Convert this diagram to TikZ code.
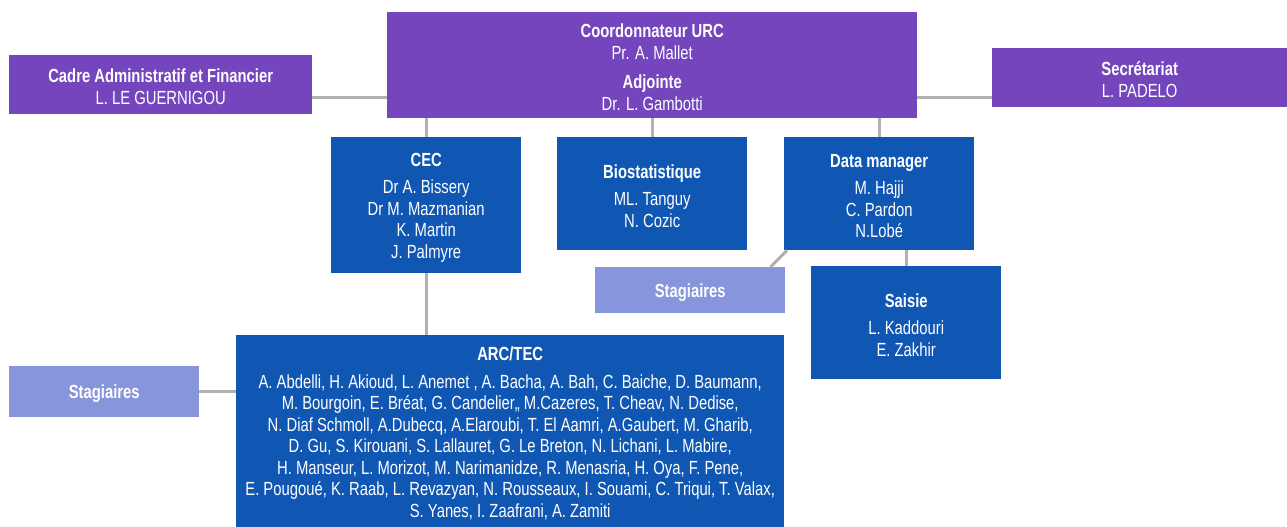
\documentclass[tikz,border=0pt]{standalone}
\usepackage{fontspec}
\setmainfont{Liberation Sans}[FakeStretch=0.78]
\definecolor{purp}{RGB}{116,69,189}
\definecolor{blu}{RGB}{16,87,180}
\definecolor{lav}{RGB}{135,149,220}
\definecolor{conn}{RGB}{180,177,172}
\tikzset{
  box/.style={anchor=north west, inner sep=0pt, align=center, text=white,
    font=\fontsize{19}{21.5}\selectfont},
  purpbox/.style={box, fill=purp},
  bluebox/.style={box, fill=blu},
  lavbox/.style={box, fill=lav},
  link/.style={draw=conn, line width=3pt}
}
\newcommand{\ttl}[1]{\rule{0pt}{18pt}\textbf{#1}}
\begin{document}
\begin{tikzpicture}[x=1pt,y=-1pt]
\useasboundingbox (0,0) rectangle (1287,527);
% top level
\node[purpbox, minimum width=530pt, minimum height=106pt] (coord) at (387,12)
  {\ttl{Coordonnateur URC}\\Pr. A. Mallet\\[8pt]\textbf{Adjointe}\\Dr. L. Gambotti};
\node[purpbox, minimum width=303pt, minimum height=59pt] (cadre) at (9,55)
  {\ttl{Cadre Administratif et Financier}\\L. LE GUERNIGOU};
\node[purpbox, minimum width=295pt, minimum height=59pt] (secr) at (992,48)
  {\ttl{Secrétariat}\\L. PADELO};
% second level
\node[bluebox, minimum width=190pt, minimum height=136pt] (cec) at (331,137)
  {\ttl{CEC}\\[6pt]Dr A. Bissery\\Dr M. Mazmanian\\K. Martin\\J. Palmyre};
\node[bluebox, minimum width=190pt, minimum height=113pt] (bio) at (557,137)
  {\ttl{Biostatistique}\\[6pt]ML. Tanguy\\N. Cozic};
\node[bluebox, minimum width=190pt, minimum height=113pt] (dm) at (784,137)
  {\ttl{Data manager}\\[6pt]M. Hajji\\C. Pardon\\N.Lobé};
% third level
\node[lavbox, minimum width=190pt, minimum height=46pt] (stagR) at (595,267)
  {\ttl{Stagiaires}};
\node[bluebox, minimum width=190pt, minimum height=113pt] (saisie) at (811,266)
  {\ttl{Saisie}\\[6pt]L. Kaddouri\\E. Zakhir};
\node[bluebox, minimum width=548pt, minimum height=192pt] (arc) at (236,335)
  {\ttl{ARC/TEC}\\[6pt]
  A. Abdelli, H. Akioud, L. Anemet , A. Bacha, A. Bah, C. Baiche, D. Baumann,\\
  M. Bourgoin, E. Bréat, G. Candelier,, M.Cazeres, T. Cheav, N. Dedise,\\
  N. Diaf Schmoll, A.Dubecq, A.Elaroubi, T. El Aamri, A.Gaubert, M. Gharib,\\
  D. Gu, S. Kirouani, S. Lallauret, G. Le Breton, N. Lichani, L. Mabire,\\
  H. Manseur, L. Morizot, M. Narimanidze, R. Menasria, H. Oya, F. Pene,\\
  E. Pougoué, K. Raab, L. Revazyan, N. Rousseaux, I. Souami, C. Triqui, T. Valax,\\
  S. Yanes, I. Zaafrani, A. Zamiti};
\node[lavbox, minimum width=190pt, minimum height=51pt] (stagL) at (9,366)
  {\ttl{Stagiaires}};
% connectors
\draw[link] ([yshift=-12.5pt]cadre.east) -- ([yshift=-12.5pt]cadre.east -| coord.west);
\draw[link] ([yshift=-19.5pt]secr.west) -- ([yshift=-19.5pt]secr.west -| coord.east);
\draw[link] (coord.south -| cec.north) -- (cec.north);
\draw[link] (coord.south -| bio.north) -- (bio.north);
\draw[link] (coord.south -| dm.north) -- (dm.north);
\draw[link] (cec.south) -- (cec.south |- arc.north);
\draw[link] (saisie.north |- dm.south) -- (saisie.north);
\draw[link] (stagL.east) -- (stagL.east -| arc.west);
\draw[link] ([xshift=-15pt]stagR.north east) -- ([xshift=3pt]dm.south west);
\end{tikzpicture}
\end{document}
